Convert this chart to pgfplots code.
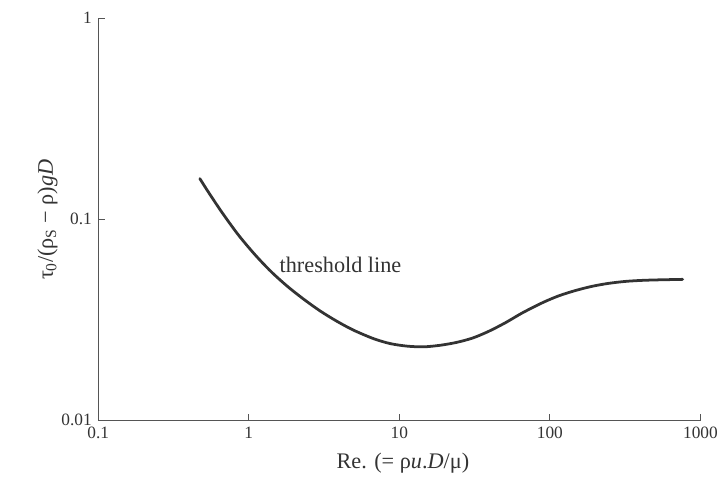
\documentclass[border=0pt]{standalone}
\usepackage{pgfplots}
\pgfplotsset{compat=1.18}
\usepackage{fontspec}
\setmainfont{Liberation Serif}
\definecolor{ink}{HTML}{333333}
\definecolor{axisc}{HTML}{555555}
\begin{document}
\begin{tikzpicture}
\begin{axis}[
  scale only axis,
  width=607bp, height=405bp,
  xmode=log, ymode=log,
  xmin=0.1, xmax=1000, ymin=0.01, ymax=1,
  axis lines*=left,
  axis line style={axisc, line width=1pt},
  xtick={0.1,1,10,100,1000},
  xticklabels={0.1,1,10,100,1000},
  ytick={0.01,0.1,1},
  yticklabels={0.01,0.1,1},
  xminorticks=false, yminorticks=false,
  major tick length=7bp,
  tick style={axisc, line width=0.9pt},
  tick align=inside,
  /pgf/number format/assume math mode=true,
  ticklabel style={font=\fontsize{17.5}{20}\selectfont, text=ink},
  xticklabel style={yshift=-3bp},
  yticklabel style={xshift=-3bp, yshift=1bp},
  xlabel={Re. (= ρ\textit{u}.\textit{D}/μ)},
  ylabel={τ\textsubscript{0}/(ρ\textsubscript{S} − ρ)\textit{gD}},
  label style={font=\fontsize{22.5}{26}\selectfont, text=ink},
  xlabel style={at={(axis description cs:0.506,-0.12)}, anchor=base},
  ylabel style={at={(axis description cs:-0.084,0.5)}, anchor=center},
  clip=false,
]
\addplot[ink, line width=2.8pt, smooth, tension=0.5, line cap=round] coordinates {
  (0.473,0.1603)
  (0.537,0.1380)
  (0.656,0.1102)
  (0.846,0.0847)
  (1.090,0.0675)
  (1.403,0.0553)
  (1.807,0.0466)
  (2.33,0.0401)
  (2.99,0.0351)
  (3.86,0.0312)
  (4.97,0.0282)
  (6.74,0.0256)
  (8.67,0.0242)
  (11.2,0.0235)
  (14.4,0.0233)
  (18.5,0.0237)
  (23.9,0.0245)
  (30.8,0.0258)
  (39.5,0.0279)
  (51.0,0.0308)
  (65.7,0.0344)
  (89.0,0.0386)
  (114.5,0.0418)
  (147.4,0.0444)
  (190,0.0466)
  (244,0.0482)
  (315,0.0493)
  (406,0.0499)
  (522,0.0502)
  (763,0.0505)
};
\node[anchor=base west, font=\fontsize{22.5}{26}\selectfont, text=ink, inner sep=0pt] at (axis cs:1.60,0.0544) {threshold line};
\end{axis}
\path[use as bounding box] ([xshift=-99bp,yshift=-53bp]current axis.south west) rectangle ([xshift=15bp,yshift=19bp]current axis.north east);
\end{tikzpicture}
\end{document}
